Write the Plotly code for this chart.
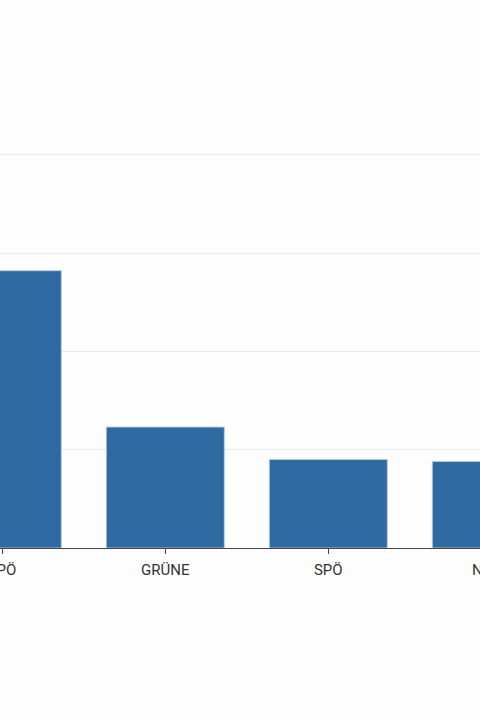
import plotly.graph_objects as go

parties = ["FPÖ", "GRÜNE", "SPÖ", "NEOS"]
values = [28.2, 12.3, 9.0, 8.8]
y_ticks = [0, 10, 20, 30, 40]

# The reference shows the middle of a wider chart: the figure is wider
# than the window and shifted left so only the central part is visible.
FIG_W = 660
SHIFT = 90

fig = go.Figure(go.Bar(
    x=parties, y=values,
    marker=dict(color="#2e6a9f", line=dict(color="rgba(180,205,230,0.9)", width=1)),
    hoverinfo="x+y",
))

fig.update_layout(
    width=FIG_W, height=720,
    margin=dict(l=0, r=0, t=135, b=172, autoexpand=False),
    paper_bgcolor="#fdfdfd", plot_bgcolor="#fdfdfd",
    bargap=0.276,
    showlegend=False,
    font=dict(family="Roboto", size=15, color="#333333"),
)
fig.update_xaxes(
    range=[(-SHIFT - 2.3) / 163, (FIG_W - SHIFT - 2.3) / 163], automargin=False,
    showline=True, linecolor="#444444", linewidth=1,
    ticks="outside", ticklen=5, tickcolor="#444444", tickwidth=1,
    ticklabelstandoff=3,
    showgrid=False, fixedrange=True,
)
fig.update_yaxes(
    range=[0, 42], tickvals=y_ticks, showticklabels=False, automargin=False,
    showgrid=True, gridcolor="#e8e8e8", gridwidth=1,
    zeroline=False, showline=False, fixedrange=True,
)

fig.write_html(
    "out.html",
    config={"displayModeBar": False},
    post_script=(
        "document.body.style.margin='0';"
        "document.body.style.overflow='hidden';"
        "document.body.style.background='#fdfdfd';"
        "document.getElementById('{plot_id}').style.marginLeft='-%dpx';" % SHIFT
    ),
)
